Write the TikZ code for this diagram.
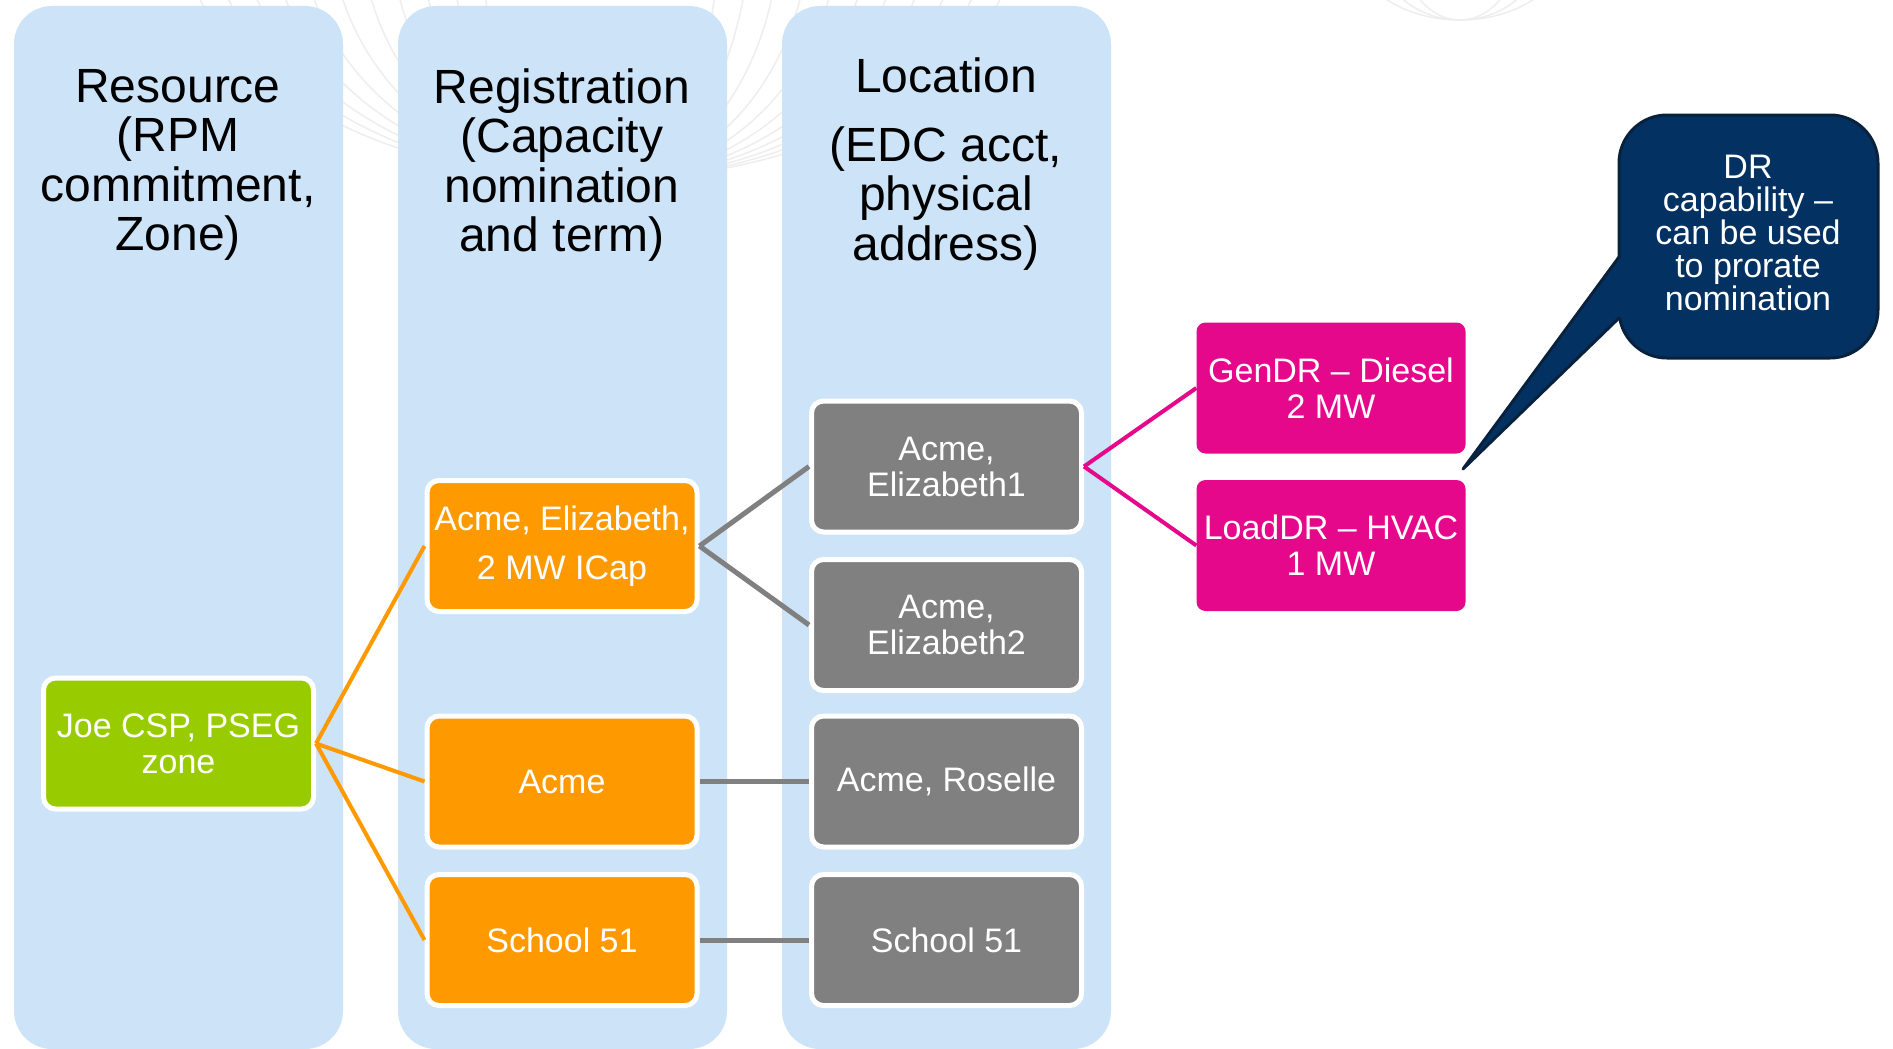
\documentclass[tikz,border=0pt]{standalone}
\usepackage{fontspec}
\setmainfont{Liberation Sans}
\definecolor{colbg}{RGB}{205,227,248}
\definecolor{cgreen}{RGB}{153,204,0}
\definecolor{corange}{RGB}{255,153,0}
\definecolor{cgray}{RGB}{128,128,128}
\definecolor{cmag}{RGB}{230,8,139}
\definecolor{cnavy}{RGB}{3,50,98}
\definecolor{cnavyb}{RGB}{8,34,62}
\definecolor{wmark}{RGB}{238,238,238}
\begin{document}
\begin{tikzpicture}[x=1pt,y=-1pt,
  colbox/.style={fill=colbg, rounded corners=38pt, minimum width=329pt, minimum height=1043pt, inner sep=0pt},
  hdr/.style={align=center, font=\fontsize{48}{49.5}\selectfont, text=black, inner sep=0pt},
  box/.style={draw=white, line width=5pt, rounded corners=12pt, minimum width=270pt, minimum height=131pt, inner sep=0pt, text=white, align=center, font=\fontsize{34}{36}\selectfont},
  greenbox/.style={box, fill=cgreen},
  orangebox/.style={box, fill=corange},
  graybox/.style={box, fill=cgray},
  magbox/.style={fill=cmag, rounded corners=9pt, minimum width=269pt, minimum height=131pt, inner sep=0pt, text=white, align=center, font=\fontsize{34}{36}\selectfont},
  oline/.style={draw=corange, line width=4pt},
  gline/.style={draw=cgray, line width=5pt},
  mline/.style={draw=cmag, line width=4pt},
]
\useasboundingbox (0,0) rectangle (1893,1049);
\fill[white] (0,0) rectangle (1893,1049);

% faint watermark
\begin{scope}
\clip (0,0) rectangle (1893,1049);
\foreach \r in {120,150,...,420} {
  \draw[wmark, line width=1.5pt] (600,-80) ellipse ({\r} and 260);
}
\foreach \r in {60,85,110} {
  \draw[wmark, line width=1.5pt] (1460,-60) ellipse ({\r} and 80);
}
\end{scope}

% columns
\node[colbox] (col1) at (178.5,527.5) {};
\node[colbox] (col2) at (562.5,527.5) {};
\node[colbox] (col3) at (946.5,527.5) {};

% headers
\node[hdr] (h1) at (178,165) {Resource\\(RPM\\commitment,\\Zone)};
\node[hdr] (h2) at (562,165) {Registration\\(Capacity\\nomination\\and term)};
\node[hdr] (h3a) at (946,75) {Location};
\node[hdr] (h3b) at (946,198.5) {(EDC acct,\\physical\\address)};

% boxes
\node[greenbox] (joe) at (178.5,743.5) {Joe CSP, PSEG\\zone};
\node[orangebox, font=\fontsize{34}{49}\selectfont] (regA) at (562,546) {Acme, Elizabeth,\\2 MW ICap};
\node[orangebox] (regB) at (562,781.5) {Acme};
\node[orangebox] (regC) at (562,940) {School 51};
\node[graybox] (g1) at (946.5,466.5) {Acme,\\Elizabeth1};
\node[graybox] (g2) at (946.5,625) {Acme,\\Elizabeth2};
\node[graybox] (g3) at (946.5,781.5) {Acme, Roselle};
\node[graybox] (g4) at (946.5,940) {School 51};
\node[magbox] (gen) at (1331,388) {GenDR – Diesel\\2 MW};
\node[magbox] (load) at (1331,545.5) {LoadDR – HVAC\\1 MW};

% connectors
\draw[oline] (joe.east) -- (regA.west);
\draw[oline] (joe.east) -- (regB.west);
\draw[oline] (joe.east) -- (regC.west);
\draw[gline] (regA.east) -- (g1.west);
\draw[gline] (regA.east) -- (g2.west);
\draw[gline] (regB.east) -- (g3.west);
\draw[gline] (regC.east) -- (g4.west);
\draw[mline] (g1.east) -- (gen.west);
\draw[mline] (g1.east) -- (load.west);

% callout
\draw[fill=cnavy, draw=cnavyb, line width=3pt, rounded corners=48pt] (1619,115) rectangle (1878,358);
\fill[cnavy] (1463,469) -- (1619,257) -- (1634,257) -- (1634,318) -- (1619,318) -- cycle;
\draw[cnavyb, line width=3pt, line join=round, line cap=round] (1619,257) -- (1463,469) -- (1619,318);
\node[align=center, text=white, inner sep=0pt, font=\fontsize{34}{33}\selectfont] (callout) at (1748,233) {DR\\capability –\\can be used\\to prorate\\nomination};
\end{tikzpicture}
\end{document}
